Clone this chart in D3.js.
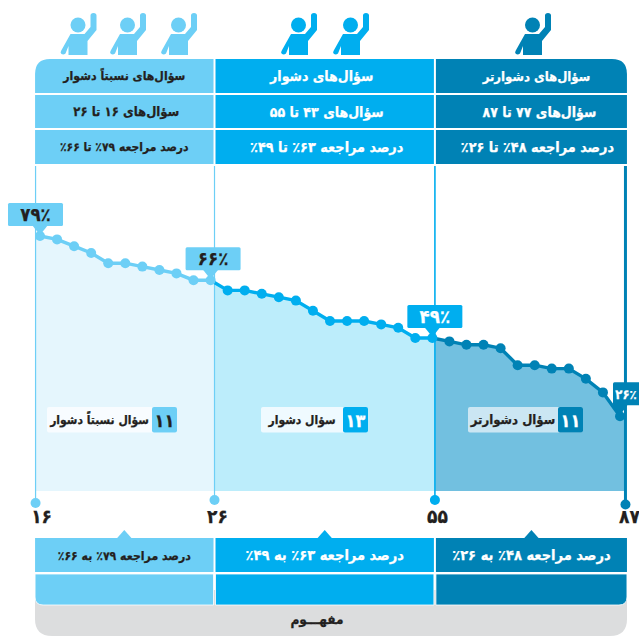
<!DOCTYPE html>
<meta charset="utf-8">
<style>
  html, body { margin: 0; padding: 0; background: #fff; overflow: hidden; }
  text { font-family: "DejaVu Sans Condensed", "DejaVu Sans", sans-serif; font-weight: bold; direction: rtl; stroke-width: 0.25; }
</style>
<script src="https://d3js.org/d3.v7.min.js"></script>
<div id="chart"></div>
<script>
  // percent of correct answers per question, hardest questions only
  var questionValues = [79, 78, 76, 74, 71, 71, 70, 69, 68, 66, 66,
                        63, 63, 62, 61, 60, 57, 54, 54, 54, 53, 52, 49, 49,
                        48, 47, 47, 46, 41, 41, 40, 40, 37, 33, 26];
  // last question index of each band
  var bandEnds = [10, 23, 34];
  // the band edges sit slightly off the points
  var edgeIndex = [-0.26, 10.23, 23.15, 34.32];
  var edgeTicks = ["۱۶", "۲۶", "۵۵", "۸۷"];
  var edgeDotY = [503, 500, 500, 504.5];

  var bandTitles = ["سؤال‌های نسبتاً دشوار", "سؤال‌های دشوار", "سؤال‌های  دشوارتر"];
  var bandRanges = ["سؤال‌های ۱۶ تا ۲۶", "سؤال‌های ۴۳ تا ۵۵", "سؤال‌های ۷۷ تا ۸۷"];
  var bandPercents = ["درصد مراجعه ۷۹٪ تا ۶۶٪", "درصد مراجعه ۶۳٪ تا ۴۹٪", "درصد مراجعه ۴۸٪ تا ۲۶٪"];
  var bandFooters = ["درصد مراجعه ۷۹٪ به ۶۶٪", "درصد مراجعه ۶۳٪ به ۴۹٪", "درصد مراجعه ۴۸٪ به ۲۶٪"];
  var bandCounts = ["۱۱", "۱۳", "۱۱"];
  var bandNames = ["سؤال نسبتاً دشوار", "سؤال دشوار", "سؤال دشوارتر"];
  var bandPeople = [3, 2, 1];
  var conceptLabel = "مفهـــوم";

  var calloutIndex = [0, 10, 23, 34];
  var calloutLabels = ["۷۹٪", "۶۶٪", "۴۹٪", "۲۶٪"];

  var bandColors = ["#6dcff6", "#00aeef", "#0082b5"];
  var bandFills = ["#e5f6fd", "#bcedfb", "#72c0e0"];
  var pillFills = ["#f8fcff", "#effaff", "#cbe6f3"];
  var bandText = ["#231f20", "#fff", "#fff"];
  var ink = "#231f20";

  var width = 639, height = 638;

  var svg = d3.select("#chart").append("svg")
    .attr("width", width)
    .attr("height", height)
    .style("display", "block");

  var x = d3.scaleLinear().domain([0, 34]).range([40, 620]);
  var y = d3.scaleLinear().domain([4, 79]).range([491, 236]);

  var points = questionValues.map(function(v, i) { return {i: i, v: v}; });
  function bandOf(i) { return bandEnds.findIndex(function(e) { return i <= e; }); }

  // rect with its own radius on each corner
  function cell(x0, y0, w, h, tl, tr, br, bl) {
    return "M" + (x0 + tl) + "," + y0
      + "H" + (x0 + w - tr) + "Q" + (x0 + w) + "," + y0 + " " + (x0 + w) + "," + (y0 + tr)
      + "V" + (y0 + h - br) + "Q" + (x0 + w) + "," + (y0 + h) + " " + (x0 + w - br) + "," + (y0 + h)
      + "H" + (x0 + bl) + "Q" + x0 + "," + (y0 + h) + " " + x0 + "," + (y0 + h - bl)
      + "V" + (y0 + tl) + "Q" + x0 + "," + y0 + " " + (x0 + tl) + "," + y0 + "Z";
  }

  var bands = d3.range(3).map(function(b) {
    return {
      b: b,
      x0: x(edgeIndex[b]) + (b ? 1 : -0.5),
      x1: x(edgeIndex[b + 1]) + (b == 2 ? 1.5 : -1)
    };
  });

  // ---- people icons
  var person = "M10,21 H24 L30,14 V2.5 Q30,0 33,0 Q36,0 36,2.5 V17 L27,28 V42 H8 V33 L5,40.5 Q3,42 1,41 Q-0.5,40 0.5,38 Z";
  var iconX = [[60.5, 110, 161], [281, 333], [515]];
  bands.forEach(function(d) {
    var g = svg.append("g").selectAll("g")
      .data(iconX[d.b].slice(0, bandPeople[d.b]))
      .enter().append("g")
      .attr("transform", function(ix) { return "translate(" + ix + ",13)"; })
      .attr("fill", bandColors[d.b]);
    g.append("circle").attr("cx", 17.5).attr("cy", 12).attr("r", 7.5);
    g.append("path").attr("d", person);
  });

  // ---- area, clipped to one band each
  var area = d3.area()
    .x(function(d) { return x(d.i); })
    .y0(y(4))
    .y1(function(d) { return y(d.v); });
  var areaPoints = [{i: edgeIndex[0], v: 78.5}].concat(points, [{i: edgeIndex[3], v: 25}]);

  var defs = svg.append("defs");
  bands.forEach(function(d) {
    defs.append("clipPath").attr("id", "band" + d.b)
      .append("rect")
      .attr("x", x(edgeIndex[d.b]))
      .attr("y", 0)
      .attr("width", x(edgeIndex[d.b + 1]) - x(edgeIndex[d.b]))
      .attr("height", height);
    svg.append("path")
      .attr("d", area(areaPoints))
      .attr("clip-path", "url(#band" + d.b + ")")
      .attr("fill", bandFills[d.b]);
  });

  // ---- vertical edges with their dots
  var edges = edgeIndex.map(function(e, i) {
    return {e: e, dotY: edgeDotY[i], color: bandColors[Math.max(0, i - 1)], w: [1.2, 1.2, 1.6, 3][i]};
  });
  svg.append("g").selectAll("line").data(edges).enter().append("line")
    .attr("x1", function(d) { return x(d.e); })
    .attr("x2", function(d) { return x(d.e); })
    .attr("y1", 166)
    .attr("y2", function(d) { return d.dotY; })
    .attr("stroke", function(d) { return d.color; })
    .attr("stroke-width", function(d) { return d.w; });
  svg.append("g").selectAll("circle").data(edges).enter().append("circle")
    .attr("cx", function(d) { return x(d.e); })
    .attr("cy", function(d) { return d.dotY; })
    .attr("r", 5)
    .attr("fill", function(d) { return d.color; });

  // ---- axis labels only
  var axis = svg.append("g")
    .attr("transform", "translate(0,505)")
    .call(d3.axisBottom(x)
      .tickValues(edgeIndex)
      .tickSize(0)
      .tickPadding(5)
      .tickFormat(function(d, i) { return edgeTicks[i]; }));
  axis.select(".domain").remove();
  axis.selectAll("text")
    .attr("font-size", 19)
    .attr("fill", ink)
    .attr("dx", function(d, i) { return [5.5, 2.5, 2, 3.5][i]; })
    .style("font-family", '"DejaVu Sans Condensed", "DejaVu Sans", sans-serif');

  // ---- line and dots
  var line = d3.line()
    .x(function(d) { return x(d.i); })
    .y(function(d) { return y(d.v); });
  [2, 1, 0].forEach(function(b) {
    var start = b ? bandEnds[b - 1] : 0;
    svg.append("path")
      .datum(points.slice(start, bandEnds[b] + 1))
      .attr("d", line)
      .attr("fill", "none")
      .attr("stroke", bandColors[b])
      .attr("stroke-width", 3.4);
  });
  svg.append("g").selectAll("circle").data(points).enter().append("circle")
    .attr("cx", function(d) { return x(d.i); })
    .attr("cy", function(d) { return y(d.v); })
    .attr("r", 5)
    .attr("fill", function(d) { return bandColors[bandOf(d.i)]; });

  // ---- callouts
  var calloutDx = [-32, -25, -25, -7];
  calloutIndex.forEach(function(ci, n) {
    var px = x(ci), py = y(questionValues[ci]);
    var c = n == 0 ? 0 : bandOf(ci);
    var left = px + calloutDx[n], top = py - (n == 3 ? 34 : 33), bw = 55, bh = 23;
    var g = svg.append("g");
    g.append("path")
      .attr("d", "M" + (px - 8) + "," + (top + bh - 1) + "L" + (px + 8) + "," + (top + bh - 1) + "L" + px + "," + (py - 1) + "Z")
      .attr("fill", bandColors[c]);
    g.append("rect")
      .attr("x", left).attr("y", top)
      .attr("width", bw).attr("height", bh)
      .attr("rx", 1.5)
      .attr("fill", bandColors[c]);
    // last one runs off the page, so its text is smaller to stay readable
    g.append("text")
      .attr("x", n == 3 ? left + 13 : left + bw / 2)
      .attr("y", top + bh / 2 + (n == 3 ? 5 : 6.5))
      .attr("text-anchor", "middle")
      .attr("font-size", n == 3 ? 13 : 18.5)
      .attr("fill", n < 2 ? ink : "#fff")
      .text(calloutLabels[n]);
  });

  // ---- band count labels
  var pillX = [[47, 177], [261, 368], [468, 583]];
  var pillSize = [12, 12, 13];
  bands.forEach(function(d) {
    var p = pillX[d.b], g = svg.append("g");
    g.append("rect")
      .attr("x", p[0]).attr("y", 407)
      .attr("width", p[1] - p[0]).attr("height", 25.5)
      .attr("rx", 2)
      .attr("fill", pillFills[d.b]);
    g.append("rect")
      .attr("x", p[1] - 25).attr("y", 407)
      .attr("width", 25).attr("height", 25.5)
      .attr("rx", 2)
      .attr("fill", bandColors[d.b]);
    g.append("text")
      .attr("x", p[1] - 12.5).attr("y", 426.5)
      .attr("text-anchor", "middle")
      .attr("font-size", 18)
      .attr("fill", bandText[d.b])
      .text(bandCounts[d.b]);
    g.append("text")
      .attr("x", (p[0] + p[1] - 25) / 2).attr("y", 424)
      .attr("text-anchor", "middle")
      .attr("font-size", pillSize[d.b])
      .attr("fill", ink)
      .text(bandNames[d.b]);
  });

  // ---- top table
  var headRows = [
    {y: 59, h: 34, labels: bandTitles, sizes: [12.2, 14, 13], dx: [0, -3, 5]},
    {y: 95, h: 33, labels: bandRanges, sizes: [13, 14, 14], dx: [2, 2, 8]},
    {y: 130, h: 34, labels: bandPercents, sizes: [12, 14.3, 14.3], dx: [0, 2, 6]}
  ];
  headRows.forEach(function(row, r) {
    bands.forEach(function(d) {
      var w = d.x1 - d.x0;
      svg.append("path")
        .attr("d", cell(d.x0, row.y, w, row.h,
          r == 0 && d.b == 0 ? 15 : 0, r == 0 && d.b == 2 ? 15 : 0, 0, 0))
        .attr("fill", bandColors[d.b]);
      svg.append("text")
        .attr("x", d.x0 + w / 2 + row.dx[d.b])
        .attr("y", row.y + row.h / 2 + row.sizes[d.b] * 0.36)
        .attr("text-anchor", "middle")
        .attr("font-size", row.sizes[d.b])
        .attr("fill", bandText[d.b])
        .text(row.labels[d.b]);
    });
  });

  // ---- bottom table on the grey panel
  svg.append("path")
    .attr("d", cell(35, 590, 592, 46, 0, 0, 17, 17))
    .attr("fill", "#dcddde");
  svg.append("text")
    .attr("x", 317).attr("y", 624)
    .attr("text-anchor", "middle")
    .attr("font-size", 13.5)
    .attr("fill", ink)
    .text(conceptLabel);

  var footerSize = [12.2, 14.5, 14.5];
  bands.forEach(function(d) {
    var w = d.x1 - d.x0, mid = d.x0 + w / 2;
    svg.append("path")
      .attr("d", "M" + (mid - 8) + ",539L" + (mid + 8) + ",539L" + mid + ",530Z")
      .attr("fill", bandColors[d.b]);
    svg.append("rect")
      .attr("x", d.x0).attr("y", 538)
      .attr("width", w).attr("height", 34)
      .attr("fill", bandColors[d.b]);
    svg.append("path")
      .attr("d", cell(d.x0, 574, w, 31, 0, 0, d.b == 2 ? 8 : 0, d.b == 0 ? 8 : 0))
      .attr("fill", bandColors[d.b])
      .attr("stroke", "#fff")
      .attr("stroke-width", 0.8);
    svg.append("text")
      .attr("x", mid).attr("y", 560)
      .attr("text-anchor", "middle")
      .attr("font-size", footerSize[d.b])
      .attr("fill", bandText[d.b])
      .text(bandFooters[d.b]);
  });

  // a little heavier, the original face is darker than DejaVu
  svg.selectAll("text").attr("stroke", function() { return d3.select(this).attr("fill"); });
</script>
